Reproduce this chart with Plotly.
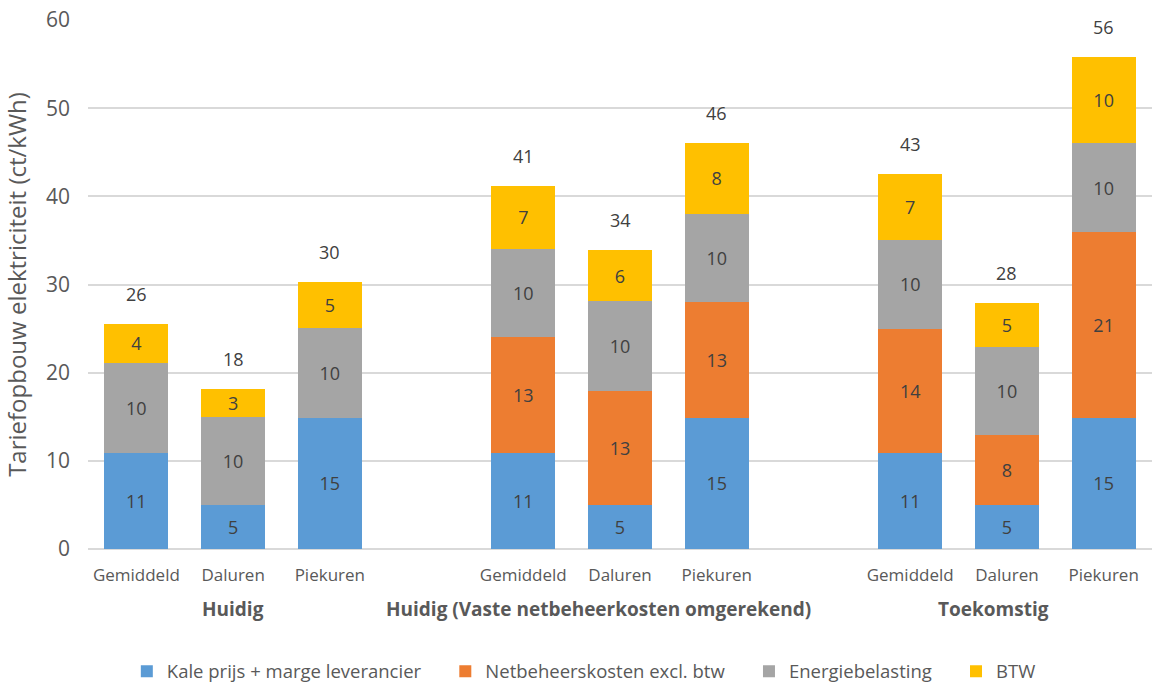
import plotly.graph_objects as go

# Slot positions on the x axis: three groups of three bars with an empty slot between groups
positions = [0, 1, 2, 4, 5, 6, 8, 9, 10]
periods = ["Gemiddeld", "Daluren", "Piekuren"] * 3
groups = ["Huidig", "Huidig (Vaste netbeheerkosten omgerekend)", "Toekomstig"]
group_centers = [1, 5, 9]
group_shift = [0, -22, -13]

# Tariff components in ct/kWh
kale_prijs = [10.85, 4.95, 14.9, 10.85, 4.95, 14.9, 10.85, 4.95, 14.9]
netbeheer = [None, None, None, 13.15, 12.95, 13.1, 14.15, 7.95, 21.0]
energiebelasting = [10.25, 10.05, 10.15, 10.0, 10.2, 10.05, 10.1, 10.05, 10.15]
btw = [4.45, 3.15, 5.25, 7.2, 5.8, 8.0, 7.45, 5.0, 9.75]

series = [
    ("Kale prijs + marge leverancier", kale_prijs, "#5B9BD5"),
    ("Netbeheerskosten excl. btw", netbeheer, "#ED7D31"),
    ("Energiebelasting", energiebelasting, "#A5A5A5"),
    ("BTW", btw, "#FFC000"),
]

FONT = "Open Sans"
TEXT_COLOR = "#404040"
AXIS_COLOR = "#595959"
PAD = "\u00a0" * 4  # extra spacing between legend entries

fig = go.Figure()
for i, (name, values, color) in enumerate(series):
    fig.add_trace(go.Bar(
        name=name + (PAD if i < len(series) - 1 else ""),
        x=positions,
        y=values,
        width=0.66,
        marker=dict(color=color, line=dict(width=0)),
        texttemplate="%{y:.0f}",
        textposition="inside",
        insidetextanchor="middle",
        textangle=0,
        constraintext="none",
        textfont=dict(family=FONT, size=18, color=TEXT_COLOR),
        hoverinfo="skip",
    ))

# Totals above each stacked bar
totals = [sum(v for v in vals if v is not None)
          for vals in zip(kale_prijs, [n or 0 for n in netbeheer], energiebelasting, btw)]
annotations = []
for x, t in zip(positions, totals):
    annotations.append(dict(
        x=x, y=t, xref="x", yref="y", text=f"{t:.0f}", showarrow=False,
        yshift=30, font=dict(family=FONT, size=18, color=TEXT_COLOR),
    ))

# Group labels under the period ticks
for g, cx, dx in zip(groups, group_centers, group_shift):
    annotations.append(dict(
        x=cx, y=-0.1134, xref="x", yref="paper", text=f"<b>{g}</b>", showarrow=False,
        xshift=dx, yanchor="middle",
        font=dict(family=FONT, size=19, color=AXIS_COLOR),
    ))

fig.update_layout(
    barmode="stack",
    width=1152,
    height=686,
    margin=dict(l=88, r=0, t=20, b=137, autoexpand=False),
    paper_bgcolor="white",
    plot_bgcolor="white",
    font=dict(family=FONT, color=AXIS_COLOR),
    showlegend=True,
    legend=dict(
        orientation="h",
        x=0.466, xanchor="center",
        y=-0.232, yanchor="middle",
        font=dict(family=FONT, size=18.5, color=AXIS_COLOR),
        itemwidth=30,
        itemclick=False,
        traceorder="normal",
    ),
    annotations=annotations,
    xaxis=dict(
        range=[-0.5, 10.5],
        tickmode="array",
        tickvals=positions,
        ticktext=periods,
        showgrid=False,
        zeroline=False,
        showline=False,
        ticks="",
        ticklabelstandoff=14,
        tickfont=dict(family=FONT, size=17, color=AXIS_COLOR),
    ),
    yaxis=dict(
        range=[0, 60],
        tickvals=[0, 10, 20, 30, 40, 50, 60],
        showgrid=True,
        gridcolor="#D9D9D9",
        gridwidth=1.5,
        zeroline=True,
        zerolinecolor="#D9D9D9",
        zerolinewidth=1.5,
        ticks="",
        ticklabelstandoff=17,
        tickfont=dict(family=FONT, size=21, color=AXIS_COLOR),
        title=dict(
            text="Tariefopbouw elektriciteit (ct/kWh)",
            font=dict(family=FONT, size=24, color=AXIS_COLOR),
            standoff=12,
        ),
    ),
)

fig.write_html("out.html")
